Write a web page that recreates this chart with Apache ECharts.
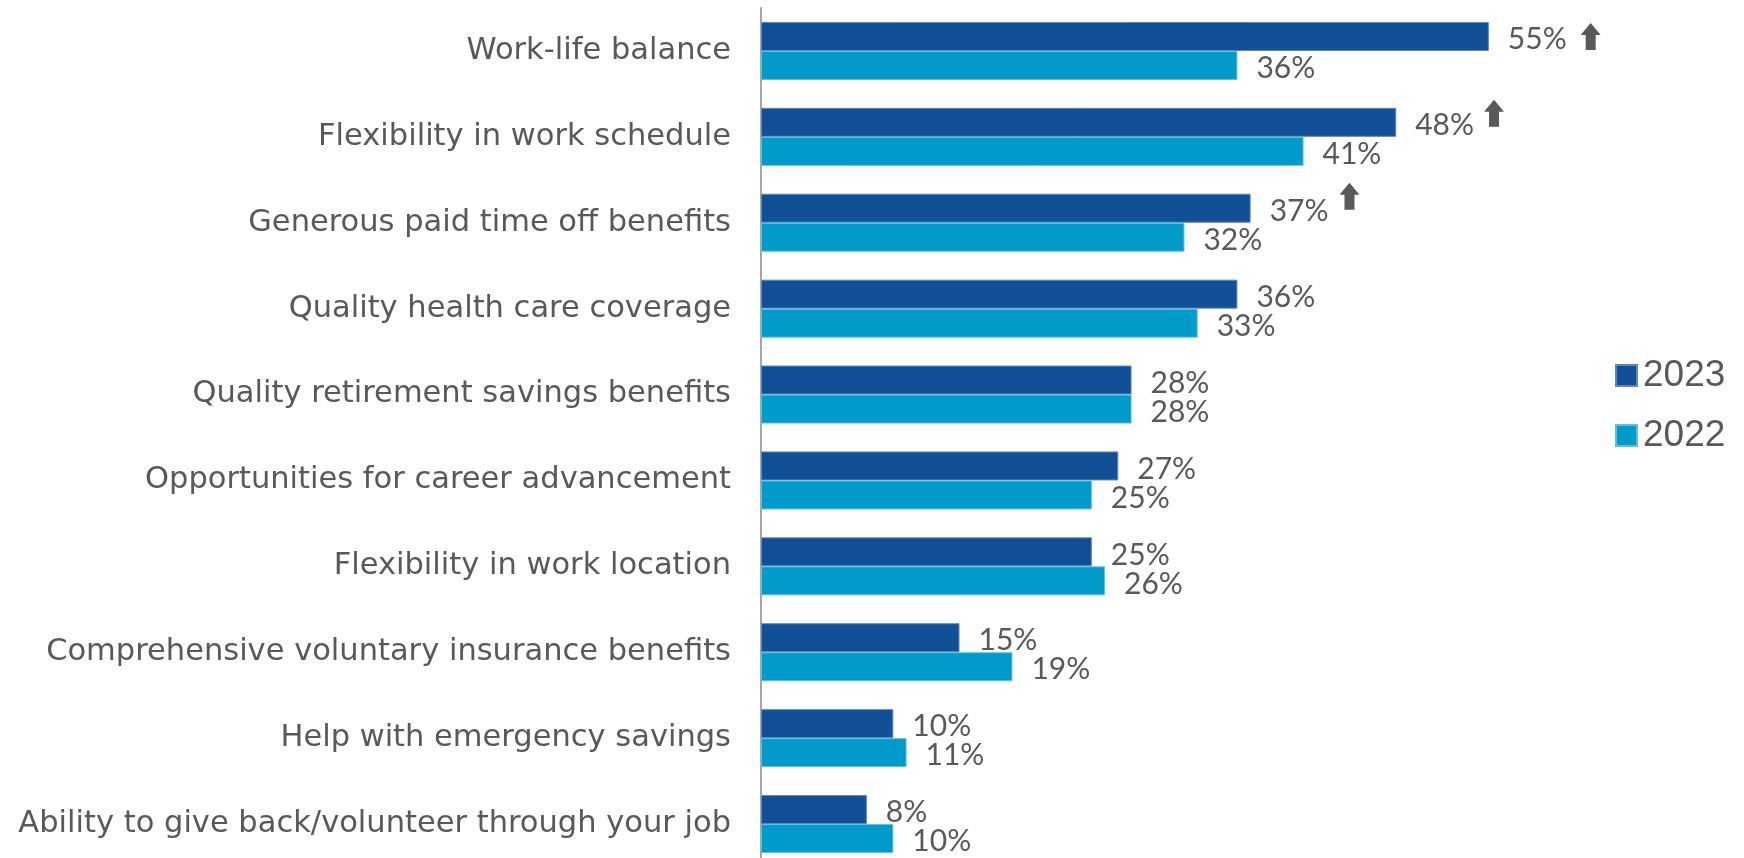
<!DOCTYPE html>
<html>
<head>
<meta charset="utf-8">
<script src="https://cdn.jsdelivr.net/npm/echarts@6/dist/echarts.min.js"></script>
<style>html,body{margin:0;padding:0;background:#fff;overflow:hidden}#c{width:1744px;height:880px}</style>
</head>
<body>
<div id="c"></div>
<script>
const categories = [
  "Work-life balance",
  "Flexibility in work schedule",
  "Generous paid time off benefits",
  "Quality health care coverage",
  "Quality retirement savings benefits",
  "Opportunities for career advancement",
  "Flexibility in work location",
  "Comprehensive voluntary insurance benefits",
  "Help with emergency savings",
  "Ability to give back/volunteer through your job"
];
const values2023 = [55, 48, 37, 36, 28, 27, 25, 15, 10, 8];
const values2022 = [36, 41, 32, 33, 28, 25, 26, 19, 11, 10];
const increased2023 = [true, true, true, false, false, false, false, false, false, false];
const legendLabels = ['2023', '2022'];

const TXT = "#595959";
// up-arrow icon; transparent space below lifts the arrow by `raise` px when centred
function arrowIcon(raise) {
  const h = 27 + 2 * raise;
  const svg = '<svg xmlns="http://www.w3.org/2000/svg" width="20" height="' + h + '" viewBox="0 0 20 ' + h + '">' +
    '<polygon points="10,0 20,12 15,12 15,27 5,27 5,12 0,12" fill="#595959"/></svg>';
  return { width: 20, height: h, backgroundColor: { image: 'data:image/svg+xml;charset=utf-8,' + encodeURIComponent(svg) } };
}
const chart = echarts.init(document.getElementById('c'));
chart.setOption({
  animation: false,
  backgroundColor: '#fff',
  grid: { left: 761, top: 8, width: 794, height: 859, containLabel: false },
  legend: {
    orient: 'vertical', left: 1610, top: 352, itemGap: 23,
    icon: 'rect', itemWidth: 21, itemHeight: 21,
    textStyle: { fontFamily: 'Liberation Sans', fontSize: 37, color: TXT, padding: [0,0,0,1] },
    data: legendLabels
  },
  xAxis: {
    type: 'value', min: 0, max: 60,
    axisLine: { show: false }, axisTick: { show: false },
    axisLabel: { show: false }, splitLine: { show: false }
  },
  yAxis: {
    type: 'category', data: categories, inverse: true,
    axisLine: { show: true, lineStyle: { color: '#A6A6A6', width: 2 } },
    axisTick: { show: false },
    axisLabel: { fontFamily: 'DejaVu Sans', fontSize: 30.5, color: TXT, margin: 30 }
  },
  series: [
    {
      name: legendLabels[0], type: 'bar', data: values2023,
      barGap: '0%', barCategoryGap: '32.5%',
      itemStyle: { color: '#114F96', borderColor: '#5C86BC', borderWidth: 1 },
      label: {
        show: true, position: 'right', distance: 19, offset: [0, 3],
        fontFamily: 'Lato', fontSize: 30, color: TXT,
        formatter: p => increased2023[p.dataIndex]
          ? p.value + '%{g' + p.dataIndex + '| }{a' + p.dataIndex + '| }'
          : p.value + '%',
        rich: {
          g0: { width: 14 }, g1: { width: 10 }, g2: { width: 11 },
          a0: arrowIcon(3),
          a1: arrowIcon(12),
          a2: arrowIcon(15)
        }
      }
    },
    {
      name: legendLabels[1], type: 'bar', data: values2022,
      itemStyle: { color: '#009BCB', borderColor: '#5CC0E0', borderWidth: 1 },
      label: {
        show: true, position: 'right', distance: 19, offset: [0, 3],
        fontFamily: 'Lato', fontSize: 30, color: TXT,
        formatter: p => p.value + '%'
      }
    }
  ]
});
</script>
</body>
</html>
